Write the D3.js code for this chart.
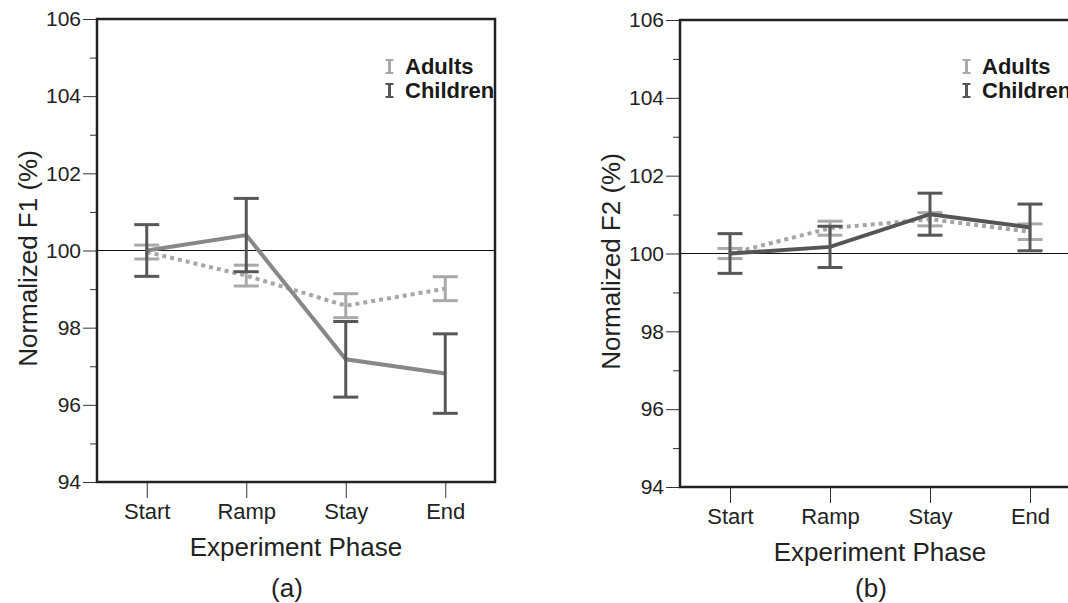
<!DOCTYPE html>
<html>
<head>
<meta charset="utf-8">
<script src="https://cdn.jsdelivr.net/npm/d3@7"></script>
<style>
  html, body { margin: 0; background: #fff; overflow: hidden; }
  svg { display: block; font-family: "Liberation Sans", Arial, sans-serif; }
</style>
</head>
<body>
<svg id="chart" width="1068" height="603"></svg>
<script>
// Data
const phases = ['Start', 'Ramp', 'Stay', 'End'];
const yTicks = [94, 96, 98, 100, 102, 104, 106];
const yMinorTicks = [95, 97, 99, 101, 103, 105];
const groups = ['Adults', 'Children'];

const f1Adults = [99.96, 99.35, 98.57, 99.01];
const f1AdultsErr = [0.18, 0.27, 0.31, 0.31];
const f1Children = [100.0, 100.40, 97.18, 96.81];
const f1ChildrenErr = [0.67, 0.95, 0.98, 1.03];

const f2Adults = [100.0, 100.65, 100.88, 100.56];
const f2AdultsErr = [0.13, 0.18, 0.17, 0.20];
const f2Children = [100.0, 100.17, 101.01, 100.67];
const f2ChildrenErr = [0.51, 0.53, 0.54, 0.60];

const svg = d3.select('#chart');

const panels = [
  {
    left: 97, right: 495, top: 19, bottom: 482,
    yLabel: 'Normalized F1 (%)', tag: '(a)',
    adults: f1Adults, adultsErr: f1AdultsErr,
    children: f1Children, childrenErr: f1ChildrenErr,
    childLine: '#888888', legendX: 386
  },
  {
    left: 680, right: 1080, top: 20, bottom: 487,
    yLabel: 'Normalized F2 (%)', tag: '(b)',
    adults: f2Adults, adultsErr: f2AdultsErr,
    children: f2Children, childrenErr: f2ChildrenErr,
    childLine: '#555555', legendX: 963
  }
];

const adultBar = '#a9a9a9';
const childBar = '#575757';

function drawPanel(p) {
  const g = svg.append('g');

  const x = d3.scalePoint().domain(phases).range([p.left, p.right]).padding(0.5);
  const y = d3.scaleLinear().domain([94, 106]).range([p.bottom, p.top]);

  // y axis with major and minor ticks
  const yAxis = g.append('g')
    .attr('transform', `translate(${p.left},0)`)
    .call(d3.axisLeft(y).tickValues(yTicks).tickSize(14).tickPadding(2).tickFormat(d3.format('d')));
  yAxis.select('.domain').remove();
  yAxis.selectAll('.tick line').attr('stroke', '#333');
  yAxis.selectAll('.tick text')
    .attr('fill', '#222')
    .style('font-size', '21px');

  const yMinor = g.append('g')
    .attr('transform', `translate(${p.left},0)`)
    .call(d3.axisLeft(y).tickValues(yMinorTicks).tickSize(7).tickFormat(''));
  yMinor.select('.domain').remove();
  yMinor.selectAll('.tick line').attr('stroke', '#333');

  // x axis
  const xAxis = g.append('g')
    .attr('transform', `translate(0,${p.bottom})`)
    .call(d3.axisBottom(x).tickSize(16).tickPadding(5));
  xAxis.select('.domain').remove();
  xAxis.selectAll('.tick line').attr('stroke', '#333');
  xAxis.selectAll('.tick text')
    .attr('fill', '#222')
    .style('font-size', '22px');

  // reference line at 100%
  g.append('line')
    .attr('x1', p.left).attr('x2', p.right)
    .attr('y1', y(100)).attr('y2', y(100))
    .attr('stroke', '#111')
    .attr('stroke-width', 1.2);

  // box
  g.append('rect')
    .attr('x', p.left).attr('y', p.top)
    .attr('width', p.right - p.left).attr('height', p.bottom - p.top)
    .attr('fill', 'none')
    .attr('stroke', '#222')
    .attr('stroke-width', 2.5);

  const line = d3.line().x((d, i) => x(phases[i])).y(d => y(d));

  function errorBars(values, errs, color) {
    const eb = g.append('g');
    values.forEach((v, i) => {
      const cx = x(phases[i]);
      const hi = y(v + errs[i]), lo = y(v - errs[i]);
      eb.append('line')
        .attr('x1', cx).attr('x2', cx).attr('y1', hi).attr('y2', lo)
        .attr('stroke', color).attr('stroke-width', 3);
      [hi, lo].forEach(yy => {
        eb.append('line')
          .attr('x1', cx - 12.5).attr('x2', cx + 12.5).attr('y1', yy).attr('y2', yy)
          .attr('stroke', color).attr('stroke-width', 3);
      });
    });
  }

  errorBars(p.adults, p.adultsErr, adultBar);

  g.append('path')
    .datum(p.adults)
    .attr('d', line)
    .attr('fill', 'none')
    .attr('stroke', '#a6a6a6')
    .attr('stroke-width', 4)
    .attr('stroke-dasharray', '4,4');

  g.append('path')
    .datum(p.children)
    .attr('d', line)
    .attr('fill', 'none')
    .attr('stroke', p.childLine)
    .attr('stroke-width', 4);

  errorBars(p.children, p.childrenErr, childBar);

  // legend
  const legend = g.append('g');
  groups.forEach((name, i) => {
    const ly = 66.5 + i * 24;
    const col = i === 0 ? adultBar : childBar;
    const lx = p.legendX + 3.5;
    legend.append('line')
      .attr('x1', lx).attr('x2', lx).attr('y1', ly - 6.5).attr('y2', ly + 6.5)
      .attr('stroke', col).attr('stroke-width', 3);
    [ly - 6.5, ly + 6.5].forEach(yy => {
      legend.append('line')
        .attr('x1', lx - 4).attr('x2', lx + 4).attr('y1', yy).attr('y2', yy)
        .attr('stroke', col).attr('stroke-width', 2);
    });
    legend.append('text')
      .attr('x', p.legendX + 19)
      .attr('y', ly + 7)
      .attr('fill', '#1a1a1a')
      .style('font-size', '22px')
      .style('font-weight', 'bold')
      .text(name);
  });

  // titles
  const cx = (p.left + p.right) / 2;
  g.append('text')
    .attr('x', cx).attr('y', p.bottom + 74)
    .attr('text-anchor', 'middle')
    .attr('fill', '#222')
    .style('font-size', '26px')
    .text('Experiment Phase');

  g.append('text')
    .attr('x', cx - 9).attr('y', 597)
    .attr('text-anchor', 'middle')
    .attr('fill', '#222')
    .style('font-size', '26px')
    .text(p.tag);

  g.append('text')
    .attr('transform', `translate(${p.left - 60},${(p.top + p.bottom) / 2 + 8}) rotate(-90)`)
    .attr('text-anchor', 'middle')
    .attr('fill', '#222')
    .style('font-size', '26px')
    .text(p.yLabel);
}

panels.forEach(drawPanel);
</script>
</body>
</html>
